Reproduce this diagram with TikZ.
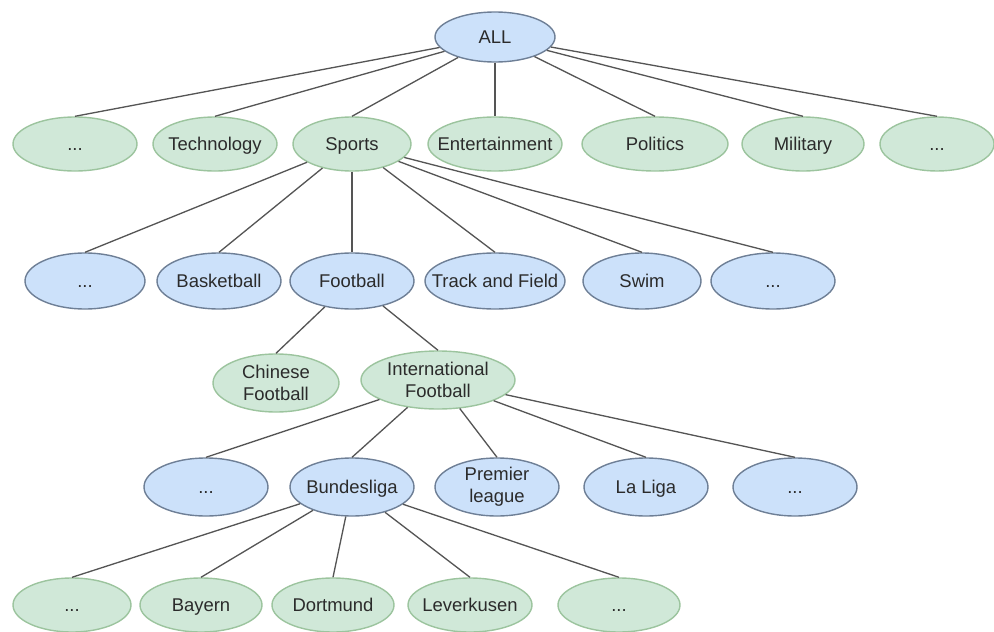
\documentclass[tikz,border=0pt]{standalone}
\usepackage{fontspec}
\setmainfont{Liberation Sans}
\usetikzlibrary{shapes.geometric}
\definecolor{bfill}{HTML}{CCE1FA}
\definecolor{bdraw}{HTML}{6E7F96}
\definecolor{gfill}{HTML}{D0E8D8}
\definecolor{gdraw}{HTML}{9CC49E}
\definecolor{edgec}{HTML}{555555}
\definecolor{txtc}{HTML}{2B2B2B}
\begin{document}
\begin{tikzpicture}[x=0.02cm,y=-0.02cm,
 ell/.style={ellipse, inner sep=0pt, line width=0.8pt},
 bnode/.style={ell, fill=bfill, draw=bdraw},
 gnode/.style={ell, fill=gfill, draw=gdraw},
 sz/.style 2 args={minimum width={#1*0.02cm}, minimum height={#2*0.02cm}},
 every label/.style={font=\fontsize{10.5}{12.5}\selectfont, text=txtc, align=center, inner sep=0pt, text height=7.6pt, text depth=0pt},
 twoline/.style={text height={}, text depth={}},
 link/.style={draw=edgec, line width=0.75pt}]
\useasboundingbox (0,0) rectangle (994,632);
% root
\node[bnode, sz={120}{50}, label={center:ALL}] (all) at (495,37) {};
% level 1
\node[gnode, sz={124}{54}, label={center:...}] (d1) at (75,144) {};
\node[gnode, sz={124}{54}, label={center:Technology}] (tech) at (215,144) {};
\node[gnode, sz={118}{54}, label={center:Sports}] (sports) at (352,144) {};
\node[gnode, sz={134}{54}, label={center:Entertainment}] (ent) at (495,144) {};
\node[gnode, sz={146}{54}, label={center:Politics}] (pol) at (655,144) {};
\node[gnode, sz={122}{54}, label={center:Military}] (mil) at (803,144) {};
\node[gnode, sz={114}{54}, label={center:...}] (d2) at (937,144) {};
% level 2
\node[bnode, sz={120}{56}, label={center:...}] (d3) at (85,281) {};
\node[bnode, sz={124}{56}, label={center:Basketball}] (bask) at (219,281) {};
\node[bnode, sz={124}{56}, label={center:Football}] (foot) at (352,281) {};
\node[bnode, sz={140}{56}, label={center:Track and Field}] (track) at (495,281) {};
\node[bnode, sz={118}{56}, label={center:Swim}] (swim) at (642,281) {};
\node[bnode, sz={124}{56}, label={center:...}] (d4) at (773,281) {};
% level 3
\node[gnode, sz={126}{58}, label={[twoline]center:{Chinese\\Football}}] (chin) at (276,383) {};
\node[gnode, sz={154}{58}, label={[twoline]center:{International\\Football}}] (intl) at (438,380) {};
% level 4
\node[bnode, sz={124}{58}, label={center:...}] (d5) at (206,487) {};
\node[bnode, sz={124}{58}, label={center:Bundesliga}] (bund) at (352,487) {};
\node[bnode, sz={124}{58}, label={[twoline]center:{Premier\\league}}] (prem) at (497,487) {};
\node[bnode, sz={124}{58}, label={center:La Liga}] (lal) at (646,487) {};
\node[bnode, sz={124}{58}, label={center:...}] (d6) at (795,487) {};
% level 5
\node[gnode, sz={118}{54}, label={center:...}] (d7) at (72,605) {};
\node[gnode, sz={122}{54}, label={center:Bayern}] (bay) at (201,605) {};
\node[gnode, sz={122}{54}, label={center:Dortmund}] (dort) at (333,605) {};
\node[gnode, sz={124}{54}, label={center:Leverkusen}] (lev) at (470,605) {};
\node[gnode, sz={122}{54}, label={center:...}] (d8) at (619,605) {};
% connectors
\foreach \c in {d1,tech,sports,ent,pol,mil,d2} \draw[link] (all) -- (\c.north);
\foreach \c in {d3,bask,foot,track,swim,d4} \draw[link] (sports) -- (\c.north);
\foreach \c in {chin,intl} \draw[link] (foot) -- (\c.north);
\foreach \c in {d5,bund,prem,lal,d6} \draw[link] (intl) -- (\c.north);
\foreach \c in {d7,bay,dort,lev,d8} \draw[link] (bund) -- (\c.north);
\end{tikzpicture}
\end{document}
